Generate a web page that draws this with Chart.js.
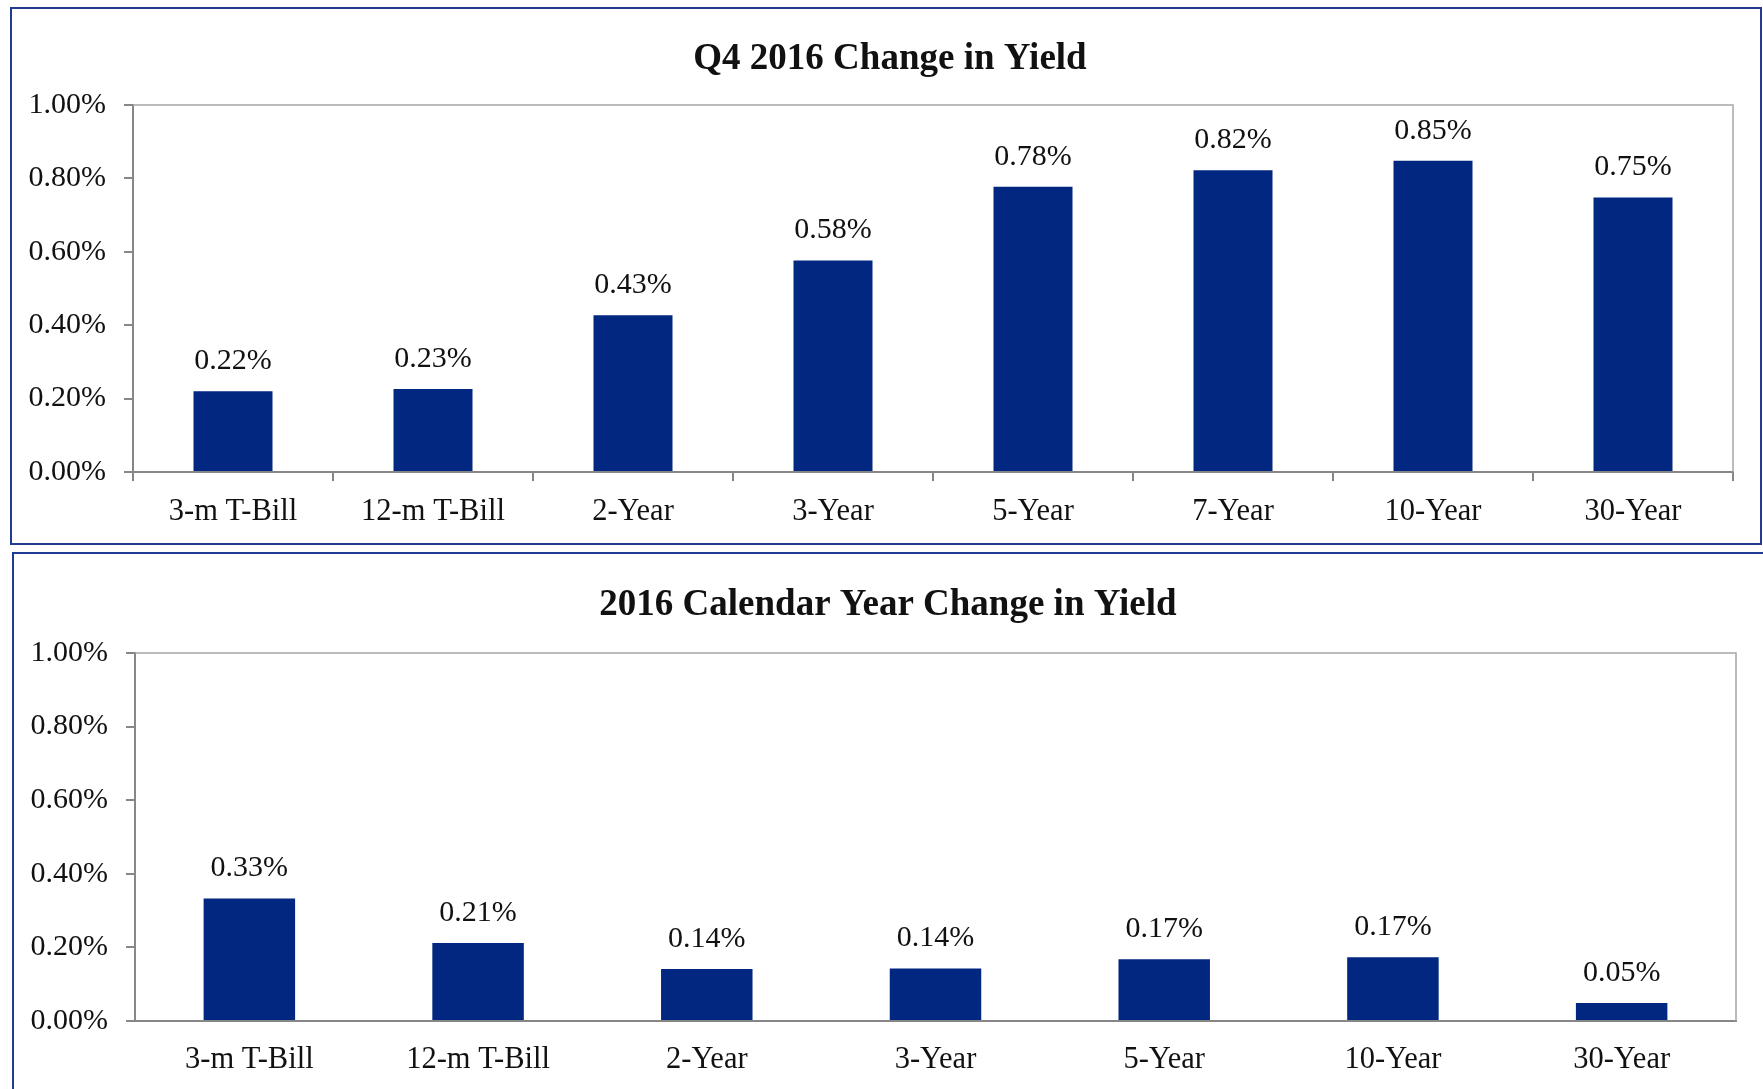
<!DOCTYPE html>
<html>
<head>
<meta charset="utf-8">
<script src="https://cdn.jsdelivr.net/npm/chart.js@4/dist/chart.umd.min.js"></script>
<style>
    html, body { margin: 0; padding: 0; background: #fff; }
    body { width: 1763px; height: 1089px; position: relative; overflow: hidden; }
    .panel { position: absolute; border: 2px solid #1f3c93; box-sizing: border-box; }
    #panelTop { left: 10px; top: 7px; width: 1752px; height: 538px; }
    #panelBottom { left: 12px; top: 552px; width: 1780px; height: 600px; }
    .wrap { position: absolute; left: 0; width: 1763px; }
    #wrapTop { top: 0; height: 544px; }
    #wrapBottom { top: 545px; height: 544px; }
</style>
</head>
<body>
<div class="panel" id="panelTop"></div>
<div class="panel" id="panelBottom"></div>
<div class="wrap" id="wrapTop"><canvas id="q4Chart"></canvas></div>
<div class="wrap" id="wrapBottom"><canvas id="yearChart"></canvas></div>
<script>
const q4Title = 'Q4 2016 Change in Yield';
const q4Categories = ['3-m T-Bill', '12-m T-Bill', '2-Year', '3-Year', '5-Year', '7-Year', '10-Year', '30-Year'];
const q4Values = [0.22, 0.226, 0.427, 0.576, 0.777, 0.822, 0.848, 0.748];

const yearTitle = '2016 Calendar Year Change in Yield';
const yearCategories = ['3-m T-Bill', '12-m T-Bill', '2-Year', '3-Year', '5-Year', '10-Year', '30-Year'];
const yearValues = [0.333, 0.212, 0.141, 0.143, 0.168, 0.173, 0.049];

const yTicks = [0, 0.2, 0.4, 0.6, 0.8, 1.0];

const FONT = '"Liberation Serif", "Times New Roman", serif';
const BAR_COLOR = '#022781';
const AXIS_COLOR = '#878787';
const FRAME_COLOR = '#a6a6a6';

const fmtPct = v => Number(v).toFixed(2) + '%';

// title, light frame on top/right of the plot area, and value labels over bars
const panelDeco = {
    id: 'panelDeco',
    beforeDatasetsDraw(chart, args, opts) {
        const { ctx, chartArea: a } = chart;
        ctx.save();
        ctx.strokeStyle = FRAME_COLOR;
        ctx.lineWidth = 1.5;
        ctx.beginPath();
        ctx.moveTo(a.left, a.top);
        ctx.lineTo(a.right, a.top);
        ctx.lineTo(a.right, a.bottom);
        ctx.stroke();

        ctx.font = 'bold 37px ' + FONT;
        ctx.fillStyle = '#111';
        ctx.textAlign = 'center';
        ctx.textBaseline = 'middle';
        ctx.fillText(opts.title, opts.titleX, opts.titleY);
        ctx.restore();
    },
    afterDatasetsDraw(chart) {
        const { ctx } = chart;
        const ds = chart.data.datasets[0];
        ctx.save();
        ctx.font = '30px ' + FONT;
        ctx.fillStyle = '#111';
        ctx.textAlign = 'center';
        ctx.textBaseline = 'middle';
        chart.getDatasetMeta(0).data.forEach((bar, i) => {
            ctx.fillText(fmtPct(ds.data[i]), bar.x, bar.y - 30);
        });
        ctx.restore();
    }
};

function makeChart(id, title, labels, values, opts) {
    return new Chart(document.getElementById(id).getContext('2d'), {
        type: 'bar',
        data: {
            labels: labels,
            datasets: [{
                data: values,
                backgroundColor: BAR_COLOR,
                borderWidth: 0,
                barPercentage: opts.barPct,
                categoryPercentage: 1.0
            }]
        },
        options: {
            responsive: true,
            maintainAspectRatio: false,
            animation: false,
            layout: { padding: { left: 0, right: opts.padRight, top: opts.padTop, bottom: 0 } },
            plugins: {
                legend: { display: false },
                tooltip: { enabled: false },
                title: { display: false },
                panelDeco: { title: title, titleX: opts.titleX, titleY: opts.titleY }
            },
            scales: {
                x: {
                    grid: {
                        display: opts.xTicks,
                        drawOnChartArea: false,
                        drawTicks: true,
                        tickLength: 9,
                        color: AXIS_COLOR,
                        lineWidth: 2
                    },
                    border: { display: true, color: AXIS_COLOR, width: 2 },
                    ticks: {
                        color: '#111',
                        padding: opts.xPad,
                        maxRotation: 0,
                        autoSkip: false,
                        font: { family: FONT, size: 30.5 }
                    },
                    afterFit(scale) { scale.height = opts.xHeight; }
                },
                y: {
                    min: 0,
                    max: 1,
                    afterBuildTicks(scale) { scale.ticks = yTicks.map(v => ({ value: v })); },
                    grid: {
                        drawOnChartArea: false,
                        drawTicks: true,
                        tickLength: 9,
                        color: AXIS_COLOR,
                        lineWidth: 2
                    },
                    border: { display: true, color: AXIS_COLOR, width: 2 },
                    ticks: {
                        color: '#111',
                        padding: 18,
                        font: { family: FONT, size: 30 },
                        callback: v => fmtPct(v)
                    },
                    afterFit(scale) { scale.width = opts.yWidth; }
                }
            }
        },
        plugins: [panelDeco]
    });
}

makeChart('q4Chart', q4Title, q4Categories, q4Values, {
    barPct: 0.395, padRight: 30, padTop: 105, yWidth: 133,
    titleX: 890, titleY: 59, xTicks: true, xPad: 12.5, xHeight: 72
});

makeChart('yearChart', yearTitle, yearCategories, yearValues, {
    barPct: 0.4, padRight: 27, padTop: 108, yWidth: 135,
    titleX: 888, titleY: 60, xTicks: false, xPad: 11.5, xHeight: 68
});
</script>
</body>
</html>
